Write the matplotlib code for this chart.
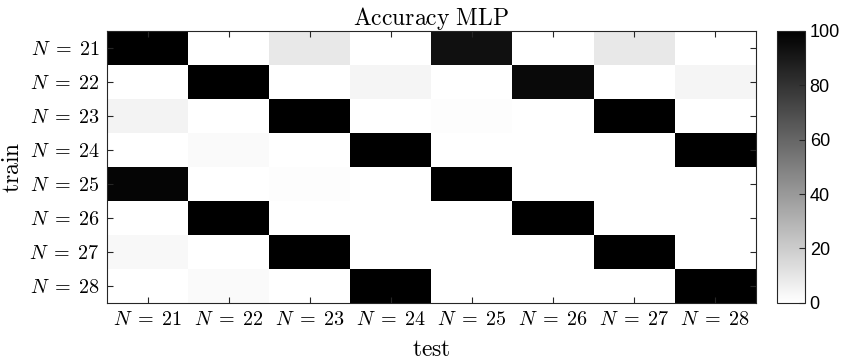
import numpy as np
import matplotlib
matplotlib.use("Agg")
import matplotlib.pyplot as plt

plt.rcParams["mathtext.fontset"] = "cm"

# Accuracy (%) – rows: train N, cols: test N
train_labels = ["21", "22", "23", "24", "25", "26", "27", "28"]
test_labels = ["21", "22", "23", "24", "25", "26", "27", "28"]
acc = np.array([
    [100, 0, 9, 0, 93, 0, 9, 0],
    [0, 100, 0, 4, 0, 96, 0, 4],
    [5, 0, 100, 0, 1, 0, 100, 0],
    [0, 2, 0, 100, 0, 0, 0, 100],
    [98, 0, 1, 0, 100, 0, 0, 0],
    [0, 100, 0, 0, 0, 100, 0, 0],
    [3, 0, 100, 0, 0, 0, 100, 0],
    [0, 2, 0, 100, 0, 0, 0, 100],
])

fig = plt.figure(figsize=(8.49, 3.64), dpi=100)
ax = fig.add_axes([0.126, 0.168, 0.764, 0.747])
cax = fig.add_axes([0.915, 0.168, 0.033, 0.747])

im = ax.imshow(acc, cmap="gray_r", vmin=0, vmax=100, aspect="auto",
               interpolation="nearest")

ax.set_xticks(range(len(test_labels)))
ax.set_xticklabels([rf"$N\;=\;{t}$" for t in test_labels], fontsize=14.5)
ax.set_yticks(range(len(train_labels)))
ax.set_yticklabels([rf"$N\;=\;{t}$" for t in train_labels], fontsize=14.5)
ax.tick_params(direction="in", top=True, right=True, length=4, color="#262626",
               pad=5)
for s in ax.spines.values():
    s.set_color("#262626")
    s.set_linewidth(0.8)

ax.set_xlabel(r"$\mathrm{test}$", fontsize=17, labelpad=6)
ax.set_ylabel(r"$\mathrm{train}$", fontsize=17, labelpad=4)
ax.set_title(r"$\mathrm{Accuracy\ MLP}$", fontsize=17, pad=4)

cb = fig.colorbar(im, cax=cax)
cb.set_ticks([0, 20, 40, 60, 80, 100])
cb.ax.tick_params(direction="in", length=4, labelsize=13, color="#262626")
for lab in cb.ax.get_yticklabels():
    lab.set_family("Liberation Sans")
cb.outline.set_edgecolor("#262626")
cb.outline.set_linewidth(0.8)

fig.savefig("out.png", dpi=100)
